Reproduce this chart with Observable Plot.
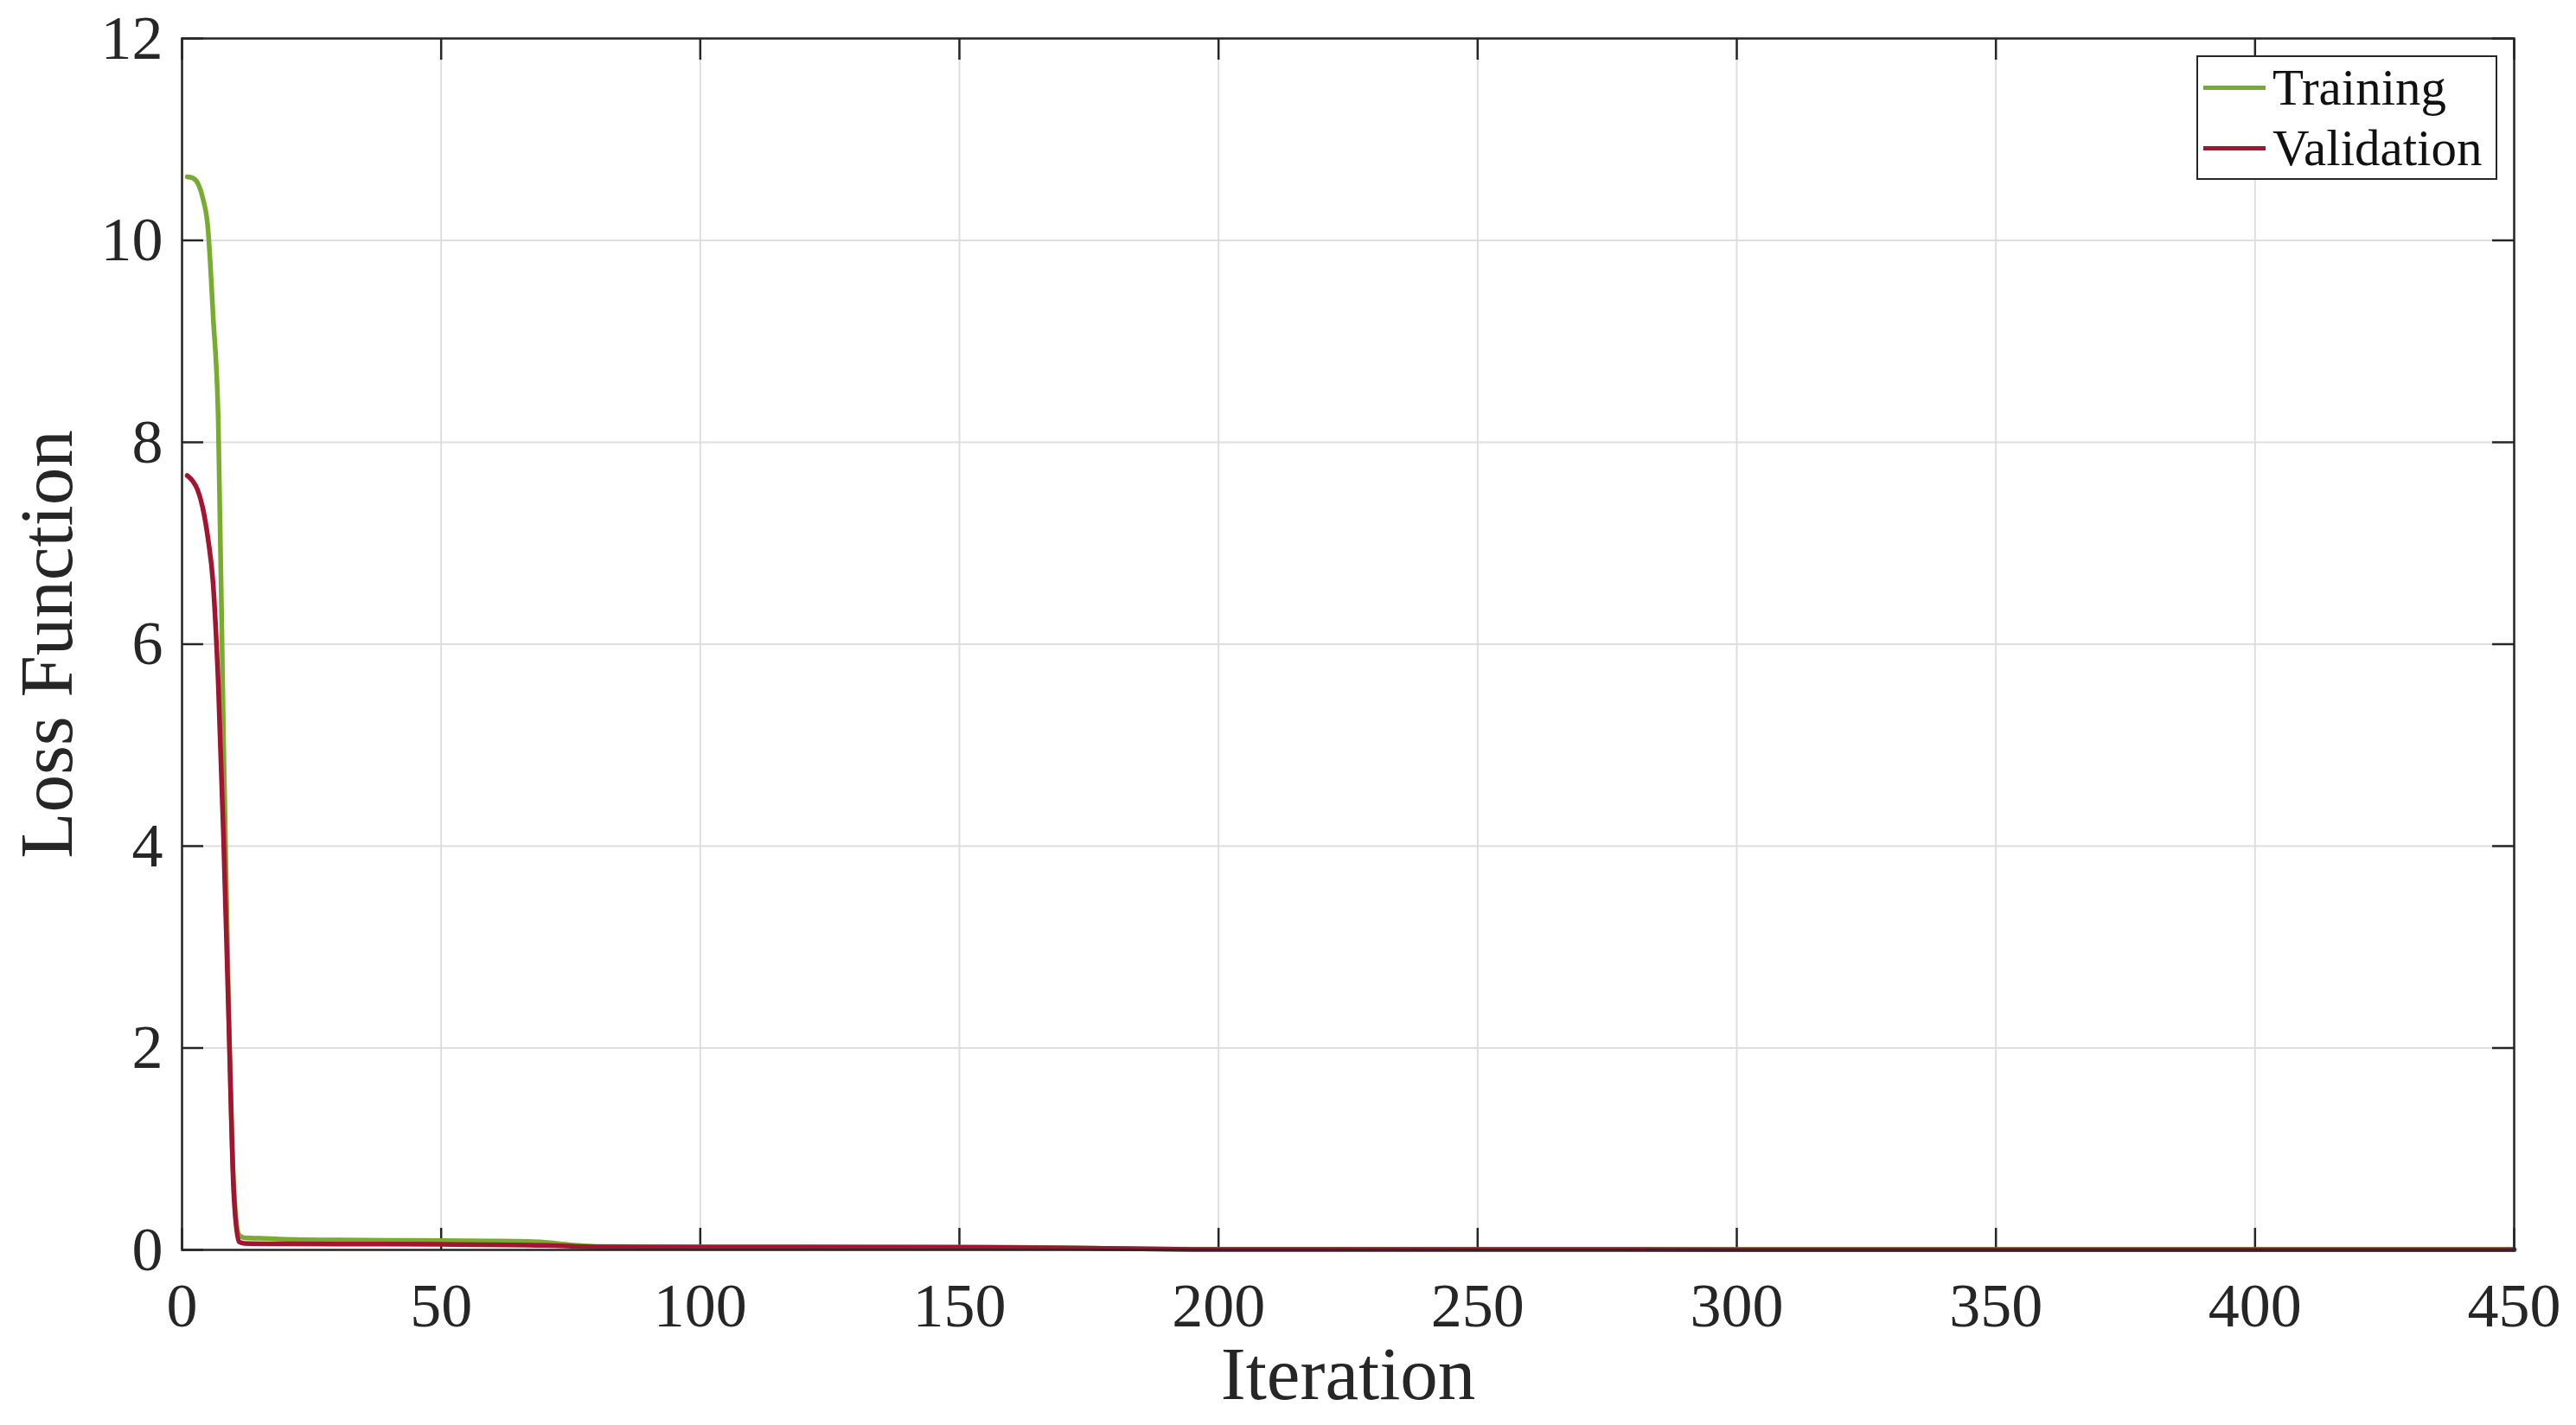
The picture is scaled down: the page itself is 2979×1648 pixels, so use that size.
<!DOCTYPE html>
<html>
<head>
<meta charset="utf-8">
<script src="https://cdn.jsdelivr.net/npm/d3@7"></script>
<script src="https://cdn.jsdelivr.net/npm/@observablehq/plot@0.6"></script>
<style>
  html, body { margin: 0; padding: 0; background: #ffffff; }
  #wrap { position: relative; width: 2979px; height: 1648px; }
  #wrap svg text { font-family: 'Liberation Serif', 'Times New Roman', serif; }
  #legend {
    position: absolute; left: 2540px; top: 64px; width: 348px;
    box-sizing: border-box; border: 2.5px solid #262626; background: #fff;
    font-family: 'Liberation Serif', 'Times New Roman', serif; font-size: 59px; color: #111;
  }
  .row { height: 70px; display: flex; align-items: center; }
  .swatch { width: 72px; height: 5px; margin-left: 6px; margin-right: 8px; }
  .row span { line-height: 1; }
</style>
</head>
<body>
<div id="wrap"></div>
<script>
// ---- data ----
const trainIter = [1, 2, 3, 4, 5, 6, 7, 8, 9, 10, 11, 12, 15, 20, 30, 40, 50, 60, 65, 70, 75, 80, 100, 120, 150, 170, 185, 195, 250, 300, 350, 400, 450];
const trainLoss = [10.63, 10.62, 10.57, 10.42, 10.12, 9.25, 8.2, 5.1, 2.4, 0.62, 0.15, 0.12, 0.115, 0.105, 0.098, 0.095, 0.092, 0.088, 0.085, 0.075, 0.05, 0.035, 0.03, 0.03, 0.028, 0.022, 0.01, 0.006, 0.005, 0.004, 0.004, 0.004, 0.004];

const validIter = [1, 2, 3, 4, 5, 6, 7, 8, 9, 10, 11, 12, 20, 30, 50, 70, 80, 100, 120, 150, 170, 185, 195, 250, 300, 350, 400, 450];
const validLoss = [7.67, 7.62, 7.53, 7.35, 7.05, 6.6, 5.6, 4.1, 2.3, 0.55, 0.08, 0.065, 0.06, 0.058, 0.055, 0.045, 0.03, 0.028, 0.027, 0.025, 0.02, 0.01, 0.005, 0.004, 0.003, 0.003, 0.003, 0.003];

const xTicks = [0, 50, 100, 150, 200, 250, 300, 350, 400, 450];
const yTicks = [0, 2, 4, 6, 8, 10, 12];

const seriesNames = ["Training", "Validation"];
const seriesColors = ["#77AC30", "#A2142F"];

// ---- tables built from arrays ----
const training = trainIter.map((it, i) => ({iteration: it, loss: trainLoss[i]}));
const validation = validIter.map((it, i) => ({iteration: it, loss: validLoss[i]}));

const W = 2979, H = 1648;
const mL = 210, mR = 72, mT = 44, mB = 203;
const plotW = W - mL - mR, plotH = H - mT - mB;
const tickLen = 25;
const axisColor = "#262626";
const font = "'Liberation Serif', 'Times New Roman', serif";

const chart = Plot.plot({
  width: W, height: H,
  marginLeft: mL, marginRight: mR, marginTop: mT, marginBottom: mB,
  x: {domain: [0, 450], ticks: xTicks},
  y: {domain: [0, 12], ticks: yTicks},
  style: {fontFamily: font, fontSize: "72px", background: "#ffffff", color: axisColor},
  marks: [
    Plot.gridX(xTicks, {stroke: "#dedede", strokeOpacity: 1, strokeWidth: 2}),
    Plot.gridY(yTicks, {stroke: "#dedede", strokeOpacity: 1, strokeWidth: 2}),
    Plot.axisX(xTicks, {tickSize: 0, tickPadding: 37, label: null, tickFormat: d => String(d), fontSize: 72, fontFamily: font, fill: axisColor}),
    Plot.axisY(yTicks, {tickSize: 0, tickPadding: 22, label: null, tickFormat: d => String(d), fontSize: 72, fontFamily: font, fill: axisColor}),
    // inward ticks on all four sides
    Plot.tickX(xTicks, {x: d => d, insetTop: plotH - tickLen, stroke: axisColor, strokeWidth: 2.5}),
    Plot.tickX(xTicks, {x: d => d, insetBottom: plotH - tickLen, stroke: axisColor, strokeWidth: 2.5}),
    Plot.tickY(yTicks, {y: d => d, insetRight: plotW - tickLen, stroke: axisColor, strokeWidth: 2.5}),
    Plot.tickY(yTicks, {y: d => d, insetLeft: plotW - tickLen, stroke: axisColor, strokeWidth: 2.5}),
    Plot.line(training, {x: "iteration", y: "loss", stroke: seriesColors[0], strokeWidth: 5.5, curve: "monotone-x"}),
    Plot.line(validation, {x: "iteration", y: "loss", stroke: seriesColors[1], strokeWidth: 5.5, curve: "monotone-x"}),
    Plot.frame({stroke: axisColor, strokeWidth: 2.5}),
    Plot.text(["Iteration"], {frameAnchor: "bottom", lineAnchor: "bottom", textAnchor: "middle", dy: 172, fontSize: 87, fontFamily: font, fill: axisColor}),
    Plot.text(["Loss Function"], {frameAnchor: "left", lineAnchor: "bottom", textAnchor: "middle", rotate: -90, dx: -128, fontSize: 87, fontFamily: font, fill: axisColor})
  ]
});

const wrap = document.getElementById("wrap");
wrap.appendChild(chart);

// legend overlay
const legend = document.createElement("div");
legend.id = "legend";
seriesNames.forEach((name, i) => {
  const row = document.createElement("div");
  row.className = "row";
  const sw = document.createElement("div");
  sw.className = "swatch";
  sw.style.background = seriesColors[i];
  const label = document.createElement("span");
  label.textContent = name;
  row.appendChild(sw);
  row.appendChild(label);
  legend.appendChild(row);
});
wrap.appendChild(legend);
</script>
</body>
</html>
